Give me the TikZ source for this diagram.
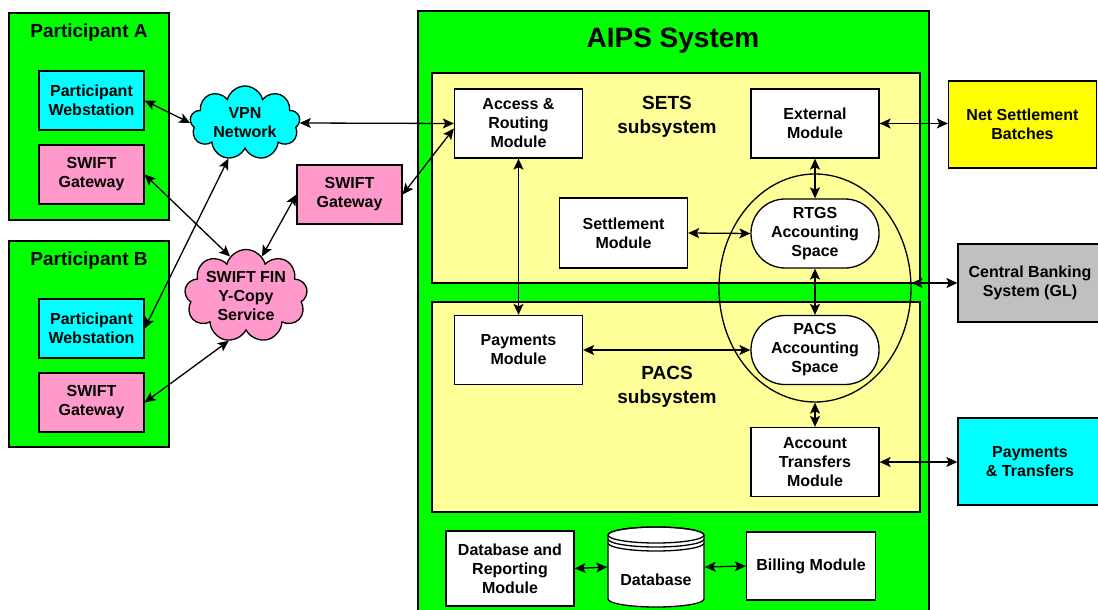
\documentclass[tikz,border=0pt]{standalone}
\usepackage{fontspec}
\setmainfont{Liberation Sans}
\usetikzlibrary{shapes.geometric,shapes.symbols,arrows.meta}
\definecolor{verde}{HTML}{00FF00}
\definecolor{amarilloc}{HTML}{FFFF99}
\definecolor{amarillo}{HTML}{FFFF00}
\definecolor{cian}{HTML}{00FFFF}
\definecolor{rosa}{HTML}{FF99CC}
\definecolor{gris}{HTML}{C0C0C0}
\begin{document}
\begin{tikzpicture}[x=1pt,y=1pt,>={Stealth[length=11pt,width=10pt,inset=2.5pt]},
	font=\bfseries\fontsize{16}{19}\selectfont,
	caja/.style={draw,line width=1.3pt,fill=white,align=center,inner sep=0pt,minimum width=128pt,minimum height=69pt},
	nube/.style={draw,line width=1.3pt,cloud,cloud puffs=9,cloud ignores aspect,inner sep=0pt},
	titulo/.style={align=center,font=\bfseries\fontsize{19}{24}\selectfont},
	flecha/.style={<->,line width=1.3pt}]
		\useasboundingbox (0,0) rectangle (1098,-610);
		%Participantes
		\node[caja,fill=verde,minimum width=160pt,minimum height=207pt] (pA) at (89,-116.5) {};
		\node[titulo] (tA) at (89,-33) {Participant A};
		\node[caja,fill=cian,minimum width=105pt,minimum height=59pt] (wsA) at (91.5,-100.5) {Participant\\Webstation};
		\node[caja,fill=rosa,minimum width=105pt,minimum height=59pt] (gwA) at (91.5,-174.5) {SWIFT\\Gateway};
		\node[caja,fill=verde,minimum width=160pt,minimum height=206pt] (pB) at (89,-344) {};
		\node[titulo] (tB) at (89,-261) {Participant B};
		\node[caja,fill=cian,minimum width=105pt,minimum height=59pt] (wsB) at (91.5,-328.5) {Participant\\Webstation};
		\node[caja,fill=rosa,minimum width=105pt,minimum height=59pt] (gwB) at (91.5,-402.5) {SWIFT\\Gateway};
		%Redes
		\node[nube,fill=cian,minimum width=110pt,minimum height=74pt] (vpn) at (245,-123) {};
		\node[align=center] (tvpn) at (vpn.center) {VPN\\Network};
		\node[nube,fill=rosa,minimum width=123pt,minimum height=93pt] (fin) at (246,-296) {};
		\node[align=center] (tfin) at (fin.center) {SWIFT FIN\\Y-Copy\\Service};
		\node[caja,fill=rosa,minimum width=105pt,minimum height=59pt] (gwC) at (349.5,-194.5) {SWIFT\\Gateway};
		%Sistema AIPS
		\node[caja,fill=verde,minimum width=511pt,minimum height=604pt] (aips) at (673.5,-313) {};
		\node[font=\bfseries\fontsize{28}{34}\selectfont] (taips) at (673,-41) {AIPS System};
		\node[caja,fill=amarilloc,minimum width=488pt,minimum height=210pt] (sets) at (676,-178) {};
		\node[caja,fill=amarilloc,minimum width=488pt,minimum height=210pt] (pacs) at (676,-407) {};
		\node[titulo] (tsets) at (667,-117) {SETS\\subsystem};
		\node[titulo] (tpacs) at (667,-387) {PACS\\subsystem};
		\node[caja] (arm) at (518.5,-123.5) {Access \&\\Routing\\Module};
		\node[caja] (ext) at (815,-123.5) {External\\Module};
		\node[caja,minimum height=70pt] (stl) at (623.5,-233) {Settlement\\Module};
		\node[caja,rounded corners=34pt] (rtgs) at (815,-233.5) {RTGS\\Accounting\\Space};
		\node[caja,rounded corners=34pt] (pacc) at (815,-350) {PACS\\Accounting\\Space};
		\node[caja] (pay) at (518.5,-350) {Payments\\Module};
		\node[caja] (atm) at (815,-462) {Account\\Transfers\\Module};
		\node[draw,line width=1.3pt,ellipse,minimum width=192pt,minimum height=228pt,inner sep=0pt] (anillo) at (815,-288) {};
		%Base de datos
		\node[caja,minimum height=75pt] (dbr) at (510,-568.5) {Database and\\Reporting\\Module};
		\filldraw[fill=white,line width=1.3pt] (608,-535) -- (608,-599)
		arc[start angle=180,end angle=360,x radius=48pt,y radius=8pt] -- (704,-535)
		arc[start angle=0,end angle=180,x radius=48pt,y radius=8pt] -- cycle;
		\draw[line width=1.3pt] (656,-535) ellipse[x radius=48pt,y radius=8pt];
		\draw[line width=1.3pt] (608,-539) arc[start angle=180,end angle=360,x radius=48pt,y radius=8pt];
		\draw[line width=1.3pt] (608,-543) arc[start angle=180,end angle=360,x radius=48pt,y radius=8pt];
		\node[minimum width=97pt,minimum height=80pt,inner sep=0pt] (db) at (656,-567) {};
		\node (tdb) at (656,-580) {Database};
		\node[caja,minimum width=129pt,minimum height=68pt] (bill) at (811,-566) {Billing Module};
		%Externos
		\node[caja,fill=amarillo,minimum width=148pt,minimum height=87pt] (nsb) at (1022.5,-124.5) {Net Settlement\\Batches};
		\node[caja,fill=gris,minimum width=144pt,minimum height=78pt] (cbs) at (1030,-283) {Central Banking\\System (GL)};
		\node[caja,fill=cian,minimum width=144pt,minimum height=87pt] (pt) at (1030,-461.5) {Payments\\\& Transfers};
		%Flechas
		\draw[flecha] (wsA.east) -- (vpn.west);
		\draw[flecha] (vpn.east) -- (arm.west);
		\draw[flecha] (gwA.east) -- (fin.112);
		\draw[flecha] (vpn.245) -- (wsB.east);
		\draw[flecha] (gwC.west) -- (fin.68);
		\draw[flecha] (gwC.east) -- ([yshift=-5pt]arm.west);
		\draw[flecha] (fin.249) -- (gwB.east);
		\draw[flecha] (arm.south) -- (pay.north);
		\draw[flecha] (ext.south) -- (rtgs.north);
		\draw[flecha] (stl.east) -- (rtgs.west);
		\draw[flecha] (rtgs.south) -- (pacc.north);
		\draw[flecha] (pay.east) -- (pacc.west);
		\draw[flecha] (anillo.south) -- (atm.north);
		\draw[flecha] (ext.east) -- (ext.east -| nsb.west);
		\draw[flecha] (cbs.west) -- (cbs.west -| anillo.east);
		\draw[flecha] (atm.east) -- (atm.east -| pt.west);
		\draw[flecha] (dbr.east) -- (db.west);
		\draw[flecha] (db.east) -- (bill.west);
\end{tikzpicture}
\end{document}
